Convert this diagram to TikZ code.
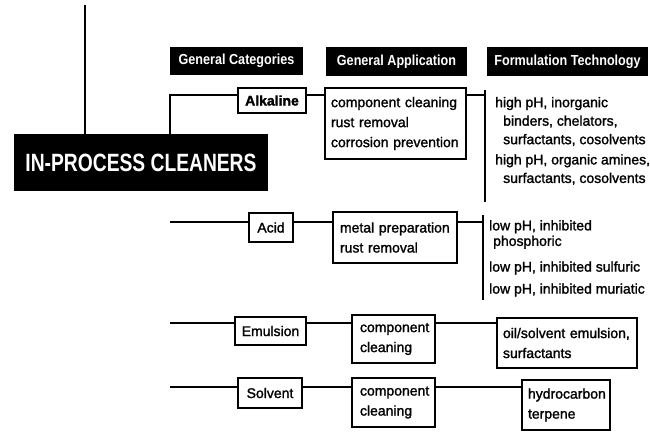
\documentclass[tikz,border=0pt]{standalone}
\usepackage{fontspec}
\setmainfont{Liberation Sans}
\newfontfamily\bodyfont[FakeBold=1.5]{Liberation Sans}
\newfontfamily\hdrfont[FakeStretch=0.87]{Liberation Sans}
\newfontfamily\titlefont[FakeStretch=0.77]{Liberation Sans}
\hyphenpenalty=10000
\begin{document}
\begin{tikzpicture}[x=1pt,y=-1pt,
  conn/.style={line width=1.3pt},
  hdr/.style={fill=black, text=white, inner sep=0pt, font=\hdrfont\bfseries\fontsize{14.5}{16}\selectfont},
  titlebox/.style={fill=black, text=white, inner sep=0pt, font=\titlefont\bfseries\fontsize{25}{28}\selectfont},
  catbox/.style={draw, line width=1.3pt, fill=white, inner sep=0pt, font=\bodyfont\fontsize{14}{16}\selectfont},
  appbox/.style={draw, line width=1.3pt, fill=white, inner ysep=0pt, inner xsep=7pt, align=left, font=\bodyfont\fontsize{14}{20}\selectfont},
  formtext/.style={inner sep=0pt, anchor=west, align=left, font=\bodyfont\fontsize{14}{18.5}\selectfont}
]
\useasboundingbox (0,0) rectangle (650,436);

% headers
\node[hdr, minimum width=133pt, minimum height=28pt] (h1) at (236.5,61) {General Categories};
\node[hdr, minimum width=141pt, minimum height=29pt] (h2) at (396.5,61.5) {General Application};
\node[hdr, minimum width=161pt, minimum height=29pt] (h3) at (567.5,61.5) {Formulation Technology};

% main title
\node[titlebox, minimum width=254pt, minimum height=57pt] (main) at (141,162.5) {IN-PROCESS CLEANERS};
\coordinate (topend) at (85,5);
\draw[conn] (topend) -- (topend |- main.north);

% category boxes
\node[catbox, minimum width=68pt, minimum height=25pt] (alk) at (272,100.5) {\bfseries Alkaline};
\node[catbox, minimum width=44pt, minimum height=29pt] (acid) at (271,227.5) {Acid};
\node[catbox, minimum width=71pt, minimum height=28pt] (emul) at (270.5,331) {Emulsion};
\node[catbox, minimum width=64pt, minimum height=30pt] (solv) at (270,393) {Solvent};

% application boxes
\node[appbox, inner xsep=6pt, text width=129pt, minimum height=71pt] (app1) at (395.5,123.5) {component cleaning\\rust removal\\corrosion prevention};
\node[appbox, text width=110pt, minimum height=51pt] (app2) at (395,237.5) {metal preparation\\rust removal};
\node[appbox, inner xsep=8pt, text width=67pt, minimum height=48pt] (app3) at (393.5,339) {component\\cleaning};
\node[appbox, inner xsep=8pt, text width=67pt, minimum height=49pt] (app4) at (393.5,402.5) {component\\cleaning};

% formulation boxes
\node[appbox, inner xsep=6pt, text width=128pt, minimum height=50pt] (form3) at (567,343) {oil/solvent emulsion,\\surfactants};
\node[appbox, inner xsep=6pt, text width=76pt, minimum height=50pt] (form4) at (566,405) {hydrocarbon\\terpene};

% formulation texts
\node[formtext] (f1a) at (495,121.5) {high pH, inorganic\\\hspace*{8pt}binders, chelators,\\\hspace*{8pt}surfactants, cosolvents};
\node[formtext] (f1b) at (495,169.5) {high pH, organic amines,\\\hspace*{8pt}surfactants, cosolvents};
\node[formtext, font=\bodyfont\fontsize{14}{15.5}\selectfont] (f2a) at (489,234.5) {low pH, inhibited\\\hspace*{4pt}phosphoric};
\node[formtext] (f2b) at (489,268) {low pH, inhibited sulfuric};
\node[formtext] (f2c) at (489,290) {low pH, inhibited muriatic};

% brackets
\coordinate (b1t) at (485,90);
\coordinate (b1b) at (485,202);
\coordinate (b2t) at (483,215);
\coordinate (b2b) at (483,300);
\draw[conn] (b1t) -- (b1b);
\draw[conn] (b2t) -- (b2b);

% row coordinates
\coordinate (j1) at (170,134);
\coordinate (r1) at (170,95);
\coordinate (r2) at (170,222);
\coordinate (r3) at (170,323);
\coordinate (r4) at (170,387);

% connectors
\draw[conn] (j1) |- (alk.west |- r1);
\draw[conn] (alk.east |- r1) -- (app1.west |- r1);
\draw[conn] (app1.east |- r1) -- (b1t |- r1);

\draw[conn] (r2) -- (acid.west |- r2);
\draw[conn] (acid.east |- r2) -- (app2.west |- r2);
\draw[conn] (app2.east |- r2) -- (b2t |- r2);

\draw[conn] (r3) -- (emul.west |- r3);
\draw[conn] (emul.east |- r3) -- (app3.west |- r3);
\draw[conn] (app3.east |- r3) -- (form3.west |- r3);

\draw[conn] (r4) -- (solv.west |- r4);
\draw[conn] (solv.east |- r4) -- (app4.west |- r4);
\draw[conn] (app4.east |- r4) -- (form4.west |- r4);
\end{tikzpicture}
\end{document}
